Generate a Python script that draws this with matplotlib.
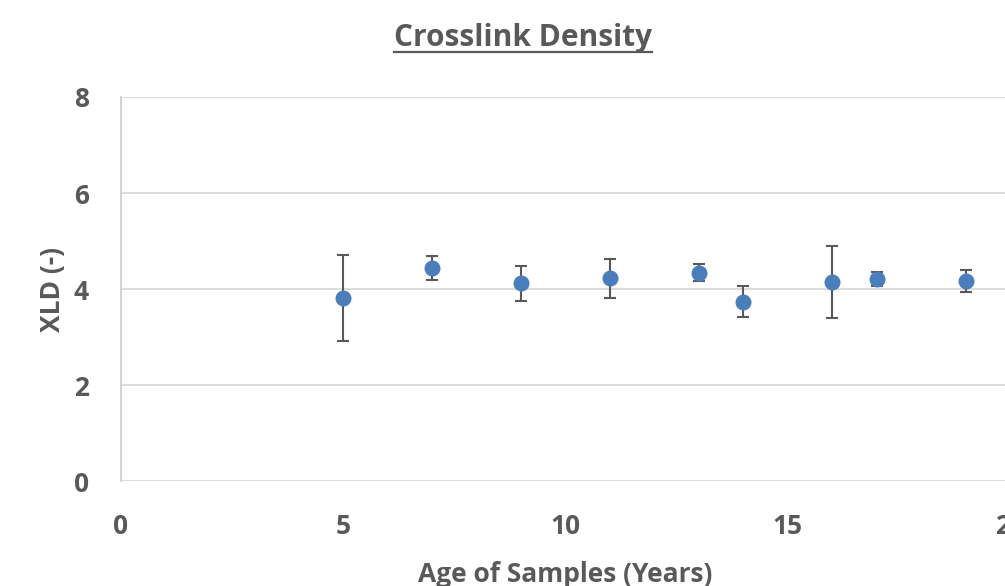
import numpy as np
import matplotlib.pyplot as plt

# サンプル年数と架橋密度 (XLD)
age = [5, 7, 9, 11, 13, 14, 16, 17, 19]
xld = [3.81, 4.44, 4.12, 4.22, 4.34, 3.74, 4.15, 4.21, 4.17]
xld_err = [0.90, 0.25, 0.37, 0.41, 0.18, 0.33, 0.75, 0.14, 0.23]

plt.rcParams['font.family'] = ['Open Sans', 'DejaVu Sans']
text_col = '#595959'

fig = plt.figure(figsize=(10.05, 5.86), dpi=100)
ax = fig.add_axes([0.1204, 0.179, 0.8846, 0.6555])

ax.errorbar(age, xld, yerr=xld_err, fmt='o', color='#4a7ebb', ms=10.5,
            ecolor='#595959', elinewidth=1.5, capsize=4.5, capthick=1.5, zorder=3)

ax.set_xlim(0, 20)
ax.set_ylim(0, 8)
ax.set_xticks([0, 5, 10, 15, 20])
ax.set_yticks([0, 2, 4, 6, 8])
ax.grid(axis='y', color='#d9d9d9', lw=1.3)
ax.set_axisbelow(True)
for s in ['top', 'right', 'bottom']:
    ax.spines[s].set_visible(False)
ax.spines['left'].set_color('#d0d0d0')
ax.spines['left'].set_linewidth(1.3)
ax.tick_params(length=0, labelsize=19, labelcolor=text_col)
ax.tick_params(axis='x', pad=23)
ax.tick_params(axis='y', pad=23)
for lab in ax.get_xticklabels() + ax.get_yticklabels():
    lab.set_fontweight('bold')

ax.set_xlabel('Age of Samples (Years)', fontsize=19, fontweight='bold', color=text_col, labelpad=15)
ax.set_ylabel('XLD (-)', fontsize=19, fontweight='bold', color=text_col, labelpad=6)

# タイトル（下線付き）
title = fig.text(523 / 1005, 1 - 38 / 586, 'Crosslink Density', ha='center', va='center',
                 fontsize=21.5, fontweight='bold', color=text_col)
fig.canvas.draw()
bb = title.get_window_extent().transformed(fig.transFigure.inverted())
fig.add_artist(plt.Line2D([bb.x0, bb.x1], [bb.y0 + 0.002, bb.y0 + 0.002],
                          transform=fig.transFigure, color=text_col, lw=1.6))

fig.savefig('out.png', dpi=100)
